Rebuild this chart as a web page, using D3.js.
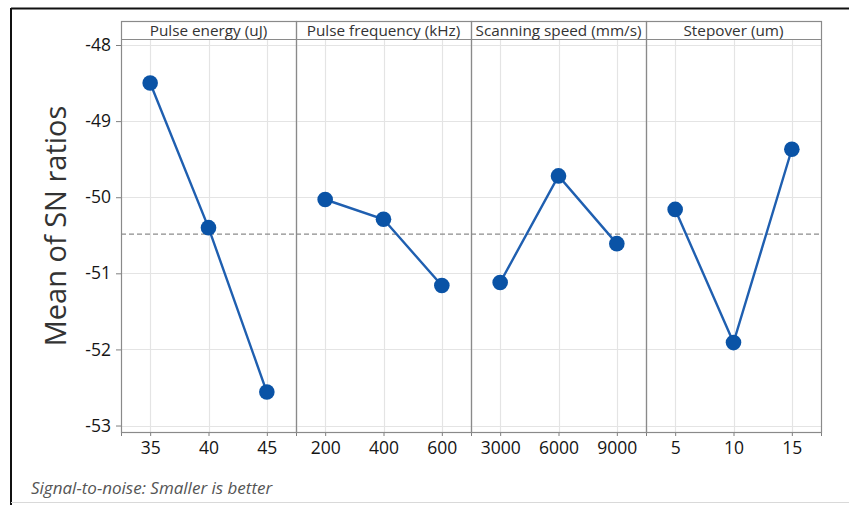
<!DOCTYPE html>
<html>
<head>
<meta charset="utf-8">
<script src="https://cdn.jsdelivr.net/npm/d3@7"></script>
<style>
  html, body { margin: 0; padding: 0; background: #fff; }
  svg { display: block; }
  text { font-family: "Open Sans", "Noto Sans", sans-serif; }
</style>
</head>
<body>
<svg id="chart" width="849" height="505"></svg>
<script>
// ---- data ----
const factors = ["Pulse energy (uJ)", "Pulse frequency (kHz)", "Scanning speed (mm/s)", "Stepover (um)"];
const levels = [
  ["35", "40", "45"],
  ["200", "400", "600"],
  ["3000", "6000", "9000"],
  ["5", "10", "15"]
];
const pulseEnergySN = [-48.50, -50.40, -52.56];
const pulseFrequencySN = [-50.03, -50.29, -51.16];
const scanningSpeedSN = [-51.12, -49.72, -50.61];
const stepoverSN = [-50.16, -51.91, -49.37];
const seriesValues = [pulseEnergySN, pulseFrequencySN, scanningSpeedSN, stepoverSN];
const yTicks = [-48, -49, -50, -51, -52, -53];
const yTickLabels = ["-48", "-49", "-50", "-51", "-52", "-53"];
const yTitle = "Mean of SN ratios";
const footnote = "Signal-to-noise: Smaller is better";

// ---- layout ----
const svg = d3.select("#chart");
const plotLeft = 121, plotRight = 821, stripTop = 21, plotTop = 39, plotBottom = 432;
const panelW = (plotRight - plotLeft) / factors.length;

const grandMean = d3.mean(seriesValues.flat());

const y = d3.scaleLinear().domain([-53.085, -47.921]).range([plotBottom, plotTop]);

// outer frame
svg.append("line").attr("x1", 11).attr("x2", 849).attr("y1", 8.5).attr("y2", 8.5)
  .attr("stroke", "#111").attr("stroke-width", 2);
svg.append("line").attr("x1", 11).attr("x2", 11).attr("y1", 8).attr("y2", 505)
  .attr("stroke", "#111").attr("stroke-width", 2);
svg.append("line").attr("x1", 11).attr("x2", 849).attr("y1", 502.5).attr("y2", 502.5)
  .attr("stroke", "#d9d9d9").attr("stroke-width", 1);

const panels = factors.map((f, i) => ({
  factor: f,
  x0: plotLeft + i * panelW,
  levels: levels[i],
  values: seriesValues[i]
}));

panels.forEach((p, i) => {
  const g = svg.append("g");
  const x = d3.scalePoint().domain(p.levels).range([p.x0, p.x0 + panelW]).padding(0.5);

  // gridlines
  g.selectAll(".hg").data(yTicks).join("line")
    .attr("x1", p.x0).attr("x2", p.x0 + panelW)
    .attr("y1", d => Math.round(y(d)) + 0.5).attr("y2", d => Math.round(y(d)) + 0.5)
    .attr("stroke", "#e4e4e4").attr("stroke-width", 1.2);
  g.selectAll(".vg").data(p.levels).join("line")
    .attr("x1", d => Math.round(x(d)) + 0.5).attr("x2", d => Math.round(x(d)) + 0.5)
    .attr("y1", plotTop).attr("y2", plotBottom)
    .attr("stroke", "#e4e4e4").attr("stroke-width", 1.2);

  // reference (grand mean) line
  g.append("line")
    .attr("x1", p.x0).attr("x2", p.x0 + panelW)
    .attr("y1", y(grandMean)).attr("y2", y(grandMean))
    .attr("stroke", "#8c8c8c").attr("stroke-width", 1.2)
    .attr("stroke-dasharray", "5,3");

  // x axis
  const xa = g.append("g").attr("transform", `translate(0,${plotBottom})`)
    .call(d3.axisBottom(x).tickSize(4).tickPadding(6));
  xa.select(".domain").attr("stroke", "#7f7f7f");
  xa.selectAll(".tick line").attr("stroke", "#7f7f7f");
  xa.selectAll(".tick text").attr("font-size", 17.5).attr("fill", "#151515")
    .style("font-family", '"Open Sans", sans-serif');

  // line + points
  const pts = p.levels.map((l, k) => ({ l, v: p.values[k] }));
  g.append("path").datum(pts)
    .attr("fill", "none").attr("stroke", "#1f5fb0").attr("stroke-width", 2.4)
    .attr("d", d3.line().x(d => x(d.l)).y(d => y(d.v)));
  g.selectAll("circle").data(pts).join("circle")
    .attr("cx", d => x(d.l)).attr("cy", d => y(d.v)).attr("r", 7.8)
    .attr("fill", "#0a53a6");

  // panel border
  g.append("rect").attr("x", p.x0 + 0.5).attr("y", stripTop + 0.5)
    .attr("width", panelW).attr("height", plotBottom - stripTop)
    .attr("fill", "none").attr("stroke", "#8a8a8a").attr("stroke-width", 1.2);
  // strip bottom
  g.append("line").attr("x1", p.x0).attr("x2", p.x0 + panelW)
    .attr("y1", plotTop + 0.5).attr("y2", plotTop + 0.5)
    .attr("stroke", "#8a8a8a").attr("stroke-width", 1.2);
  // strip label
  g.append("text").attr("x", p.x0 + panelW / 2).attr("y", stripTop + 15)
    .attr("text-anchor", "middle").attr("font-size", 15.3).attr("fill", "#333")
    .text(p.factor);
});

// y axis
const ya = svg.append("g").attr("transform", `translate(${plotLeft},0)`)
  .call(d3.axisLeft(y).tickValues(yTicks).tickFormat((d, k) => yTickLabels[k]).tickSize(5).tickPadding(5));
ya.select(".domain").remove();
ya.selectAll(".tick line").attr("stroke", "#7f7f7f");
ya.selectAll(".tick text").attr("font-size", 17.5).attr("fill", "#151515")
  .style("font-family", '"Open Sans", sans-serif');

// y title
svg.append("text")
  .attr("transform", "translate(66,226) rotate(-90)")
  .attr("text-anchor", "middle").attr("font-size", 29).attr("fill", "#333")
  .text(yTitle);

// footnote
svg.append("text").attr("x", 31).attr("y", 494)
  .attr("font-size", 17).attr("font-style", "italic").attr("fill", "#555")
  .text(footnote);
</script>
</body>
</html>
